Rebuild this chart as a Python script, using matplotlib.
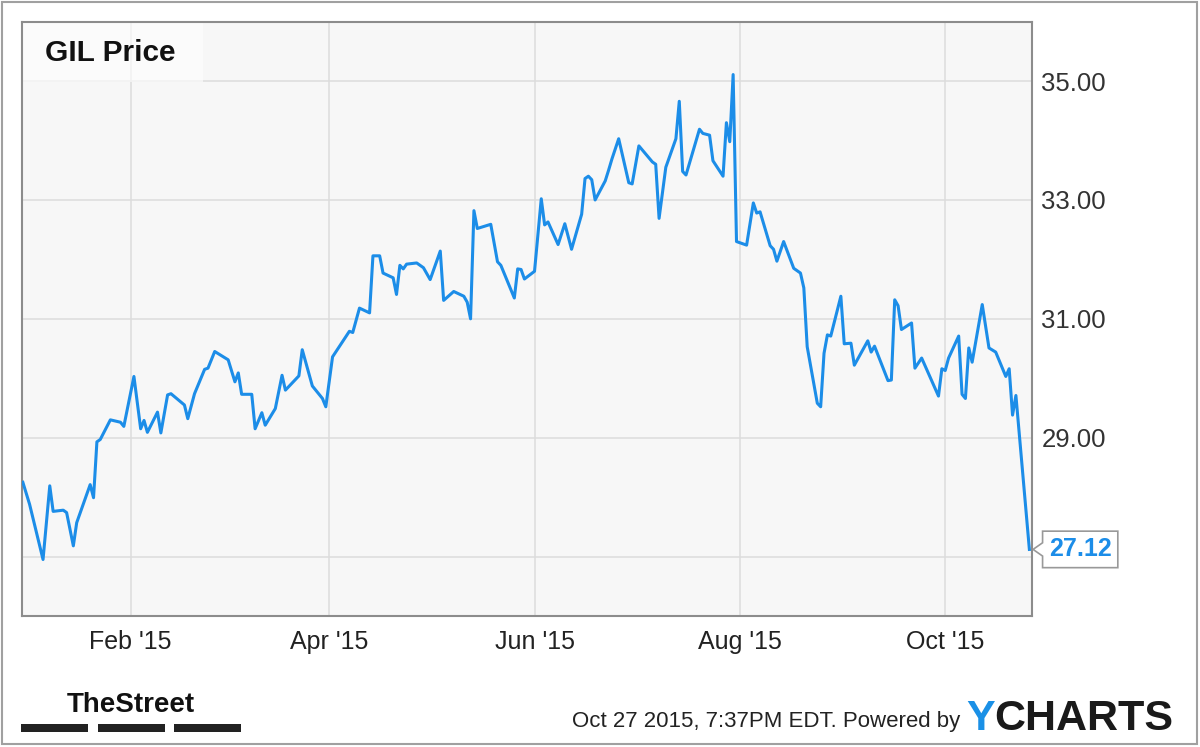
import matplotlib
matplotlib.use('Agg')
import matplotlib.pyplot as plt
import matplotlib.dates as mdates
import pandas as pd
from matplotlib.path import Path
from matplotlib.patches import Rectangle

# GIL daily close (vertices of the line)
dates = ['2014-12-31', '2015-01-02', '2015-01-06', '2015-01-08', '2015-01-09', '2015-01-12',
         '2015-01-13', '2015-01-15', '2015-01-16', '2015-01-20', '2015-01-21', '2015-01-22',
         '2015-01-23', '2015-01-26', '2015-01-29', '2015-01-30', '2015-02-02', '2015-02-04',
         '2015-02-05', '2015-02-06', '2015-02-09', '2015-02-10', '2015-02-12', '2015-02-13',
         '2015-02-17', '2015-02-18', '2015-02-20', '2015-02-23', '2015-02-24', '2015-02-26',
         '2015-03-02', '2015-03-04', '2015-03-05', '2015-03-06', '2015-03-09', '2015-03-10',
         '2015-03-12', '2015-03-13', '2015-03-16', '2015-03-18', '2015-03-19', '2015-03-23',
         '2015-03-24', '2015-03-27', '2015-03-30', '2015-03-31', '2015-04-02', '2015-04-07',
         '2015-04-08', '2015-04-10', '2015-04-13', '2015-04-14', '2015-04-16', '2015-04-17',
         '2015-04-20', '2015-04-21', '2015-04-22', '2015-04-23', '2015-04-24', '2015-04-27',
         '2015-04-29', '2015-05-01', '2015-05-04', '2015-05-05', '2015-05-08', '2015-05-11',
         '2015-05-12', '2015-05-13', '2015-05-14', '2015-05-15', '2015-05-19', '2015-05-21',
         '2015-05-22', '2015-05-26', '2015-05-27', '2015-05-28', '2015-05-29', '2015-06-01',
         '2015-06-03', '2015-06-04', '2015-06-05', '2015-06-08', '2015-06-10', '2015-06-12',
         '2015-06-15', '2015-06-16', '2015-06-17', '2015-06-18', '2015-06-19', '2015-06-22',
         '2015-06-23', '2015-06-24', '2015-06-26', '2015-06-29', '2015-06-30', '2015-07-02',
         '2015-07-06', '2015-07-07', '2015-07-08', '2015-07-10', '2015-07-13', '2015-07-14',
         '2015-07-15', '2015-07-16', '2015-07-20', '2015-07-21', '2015-07-23', '2015-07-24',
         '2015-07-27', '2015-07-28', '2015-07-29', '2015-07-30', '2015-07-31', '2015-08-03',
         '2015-08-05', '2015-08-06', '2015-08-07', '2015-08-10', '2015-08-11', '2015-08-12',
         '2015-08-14', '2015-08-17', '2015-08-19', '2015-08-20', '2015-08-21', '2015-08-24',
         '2015-08-25', '2015-08-26', '2015-08-27', '2015-08-28', '2015-08-31', '2015-09-01',
         '2015-09-03', '2015-09-04', '2015-09-08', '2015-09-09', '2015-09-10', '2015-09-14',
         '2015-09-15', '2015-09-16', '2015-09-17', '2015-09-18', '2015-09-21', '2015-09-22',
         '2015-09-24', '2015-09-29', '2015-09-30', '2015-10-01', '2015-10-02', '2015-10-05',
         '2015-10-06', '2015-10-07', '2015-10-08', '2015-10-09', '2015-10-12', '2015-10-14',
         '2015-10-16', '2015-10-19', '2015-10-20', '2015-10-21', '2015-10-22', '2015-10-26']
prices = [28.25, 27.88, 26.95, 28.19, 27.76, 27.78, 27.74, 27.18, 27.57, 28.21, 27.99, 28.93,
          28.97, 29.30, 29.26, 29.19, 30.03, 29.15, 29.29, 29.09, 29.43, 29.08, 29.72, 29.74,
          29.55, 29.32, 29.74, 30.15, 30.17, 30.45, 30.31, 29.94, 30.09, 29.73, 29.73, 29.15,
          29.42, 29.21, 29.49, 30.05, 29.80, 30.04, 30.48, 29.87, 29.66, 29.52, 30.36, 30.79,
          30.77, 31.18, 31.10, 32.06, 32.06, 31.77, 31.69, 31.41, 31.90, 31.84, 31.92, 31.94,
          31.86, 31.66, 32.14, 31.31, 31.46, 31.38, 31.28, 31.00, 32.82, 32.52, 32.59, 31.96,
          31.90, 31.35, 31.84, 31.83, 31.67, 31.80, 33.02, 32.58, 32.63, 32.25, 32.60, 32.17,
          32.76, 33.36, 33.40, 33.34, 33.00, 33.32, 33.50, 33.69, 34.03, 33.29, 33.27, 33.91,
          33.64, 33.60, 32.69, 33.55, 34.03, 34.66, 33.48, 33.42, 34.19, 34.12, 34.09, 33.66,
          33.40, 34.30, 33.98, 35.11, 32.30, 32.24, 32.95, 32.78, 32.80, 32.23, 32.17, 31.97,
          32.30, 31.85, 31.77, 31.52, 30.53, 29.58, 29.52, 30.42, 30.73, 30.71, 31.38, 30.58,
          30.59, 30.22, 30.63, 30.44, 30.54, 29.96, 29.97, 31.32, 31.22, 30.82, 30.93, 30.17,
          30.34, 29.70, 30.16, 30.13, 30.34, 30.71, 29.73, 29.66, 30.51, 30.27, 31.24, 30.51,
          30.44, 30.03, 30.16, 29.38, 29.71, 27.12]
y_ticks = [27, 29, 31, 33, 35]
y_labels = ['', '29.00', '31.00', '33.00', '35.00']
x_start = '2014-12-30 16:00'
x_end = '2015-10-26 17:00'
title = 'GIL Price'
stamp = 'Oct 27 2015, 7:37PM EDT. Powered by'

blue = '#1c8de8'
plt.rcParams['font.family'] = ['Liberation Sans', 'DejaVu Sans']

x = pd.to_datetime(dates)

fig = plt.figure(figsize=(12, 7.47), dpi=100)
ax = fig.add_axes([0.0181, 0.1754, 0.8417, 0.7956])
ax.set_facecolor('#f7f7f7')

ax.plot(x, prices, color=blue, lw=2.2, solid_joinstyle='round', zorder=3)

ax.set_xlim(pd.Timestamp(x_start), pd.Timestamp(x_end))
ax.set_ylim(26, 36)
ax.set_yticks(y_ticks)
ax.set_yticklabels(y_labels)
ax.xaxis.set_major_locator(mdates.MonthLocator(bymonth=[2, 4, 6, 8, 10]))
ax.xaxis.set_major_formatter(mdates.DateFormatter("%b '%y"))
ax.yaxis.tick_right()
ax.tick_params(axis='y', length=0, pad=7, labelsize=18.5, labelcolor='#333333')
ax.tick_params(axis='x', length=0, pad=10, labelsize=18, labelcolor='#222222')
ax.grid(True, color='#dcdcdc', lw=1.1)
ax.set_axisbelow(True)
for s in ax.spines.values():
    s.set_color('#8c8c8c')
    s.set_linewidth(1.5)

# title box
ax.add_patch(Rectangle((0, 0.899), 0.179, 0.101, transform=ax.transAxes,
                       facecolor='white', alpha=0.6, edgecolor='none', zorder=2))
ax.text(0.023, 0.934, title, transform=ax.transAxes, fontsize=21.5,
        fontweight='bold', color='#111111', va='baseline', zorder=4)


# callout box for last value
def callout(x0, y0, width, height, mutation_size):
    pad = 0.25 * mutation_size
    x0, y0 = x0 - pad, y0 - pad
    w, h = width + 2 * pad, height + 2 * pad
    t = 0.38 * mutation_size
    verts = [(x0, y0), (x0 + w, y0), (x0 + w, y0 + h), (x0, y0 + h),
             (x0, y0 + h / 2 + t * 0.7), (x0 - t, y0 + h / 2),
             (x0, y0 + h / 2 - t * 0.7), (x0, y0)]
    return Path(verts, closed=True)


ax.annotate(f'{prices[-1]:.2f}', xy=(x[-1], prices[-1]), xytext=(14, 0),
            textcoords='offset points', ha='left', va='center',
            fontsize=18, fontweight='bold', color=blue, annotation_clip=False,
            bbox=dict(boxstyle=callout, fc='white', ec='#999999', lw=1.2), zorder=6)

# footer
fig.text(131 / 1200, 1 - 712 / 747, 'TheStreet', ha='center', va='baseline',
         fontsize=20, fontweight='bold', color='#111111',
         family=['Liberation Sans Narrow', 'Liberation Sans'])
for bx in [21, 98, 174]:
    fig.add_artist(Rectangle((bx / 1200, 1 - 732 / 747), 67 / 1200, 8 / 747,
                             transform=fig.transFigure, facecolor='#222222',
                             edgecolor='none'))
fig.text(960 / 1200, 1 - 727 / 747, stamp, ha='right', va='baseline',
         fontsize=16, color='#222222')
ytxt = fig.text(966 / 1200, 1 - 730 / 747, 'Y', ha='left', va='baseline',
                fontsize=31, fontweight='bold', color='#1a90e6')
fig.add_artist(plt.Annotation('CHARTS', xy=(1, 0), xycoords=ytxt, xytext=(0, 0),
                              textcoords='offset points', ha='left', va='bottom',
                              fontsize=31, fontweight='bold', color='#1a1a1a'))

# outer frame
fig.add_artist(Rectangle((2 / 1200, 3 / 747), 1195 / 1200, 742 / 747,
                         transform=fig.transFigure, fill=False,
                         edgecolor='#a0a0a0', lw=1.5))

fig.savefig('out.png', dpi=100, facecolor='white')
